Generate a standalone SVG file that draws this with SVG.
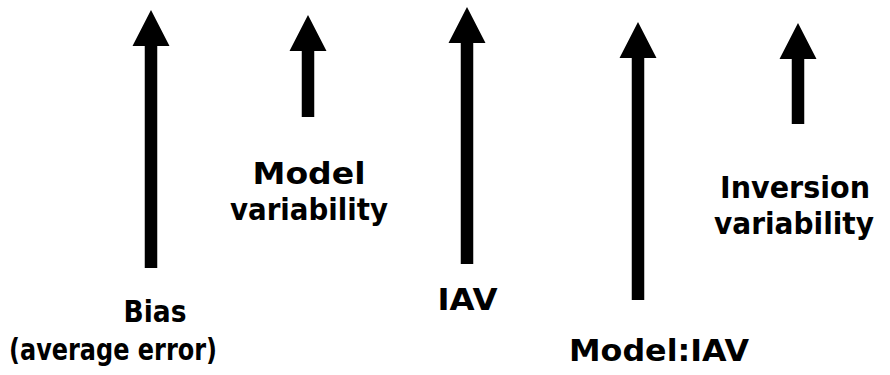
<svg xmlns="http://www.w3.org/2000/svg" width="890" height="375" viewBox="0 0 890 375">
<style>
.arrow{fill:#000;stroke:none}
.lbl{font-family:"DejaVu Sans","Liberation Sans",sans-serif;font-weight:bold;font-size:31px;fill:#000;text-anchor:middle}
</style>
<rect width="890" height="375" fill="#ffffff"/>
<g id="bias">
<polygon class="arrow" points="151,10 169.5,46 157.25,46 157.25,268 144.75,268 144.75,46 132.5,46"/>
<text class="lbl" x="155" y="322" textLength="63" lengthAdjust="spacingAndGlyphs">Bias</text>
<text class="lbl" x="113" y="360" textLength="208" lengthAdjust="spacingAndGlyphs">(average error)</text>
</g>
<g id="model-variability">
<polygon class="arrow" points="308,15 326.5,51 314.25,51 314.25,117 301.75,117 301.75,51 289.5,51"/>
<text class="lbl" x="309" y="184" textLength="113" lengthAdjust="spacingAndGlyphs">Model</text>
<text class="lbl" x="309" y="220" textLength="158" lengthAdjust="spacingAndGlyphs">variability</text>
</g>
<g id="iav">
<polygon class="arrow" points="467,7 485.5,43 473.25,43 473.25,264 460.75,264 460.75,43 448.5,43"/>
<text class="lbl" x="467.5" y="310" textLength="60" lengthAdjust="spacingAndGlyphs">IAV</text>
</g>
<g id="model-iav">
<polygon class="arrow" points="638,22 656.5,58 644.25,58 644.25,300 631.75,300 631.75,58 619.5,58"/>
<text class="lbl" x="659" y="361" textLength="180" lengthAdjust="spacingAndGlyphs">Model:IAV</text>
</g>
<g id="inversion-variability">
<polygon class="arrow" points="798,23 816.5,59 804.25,59 804.25,124 791.75,124 791.75,59 779.5,59"/>
<text class="lbl" x="795" y="198" textLength="150" lengthAdjust="spacingAndGlyphs">Inversion</text>
<text class="lbl" x="794" y="234" textLength="160" lengthAdjust="spacingAndGlyphs">variability</text>
</g>
<g id="connectors"></g>
</svg>
